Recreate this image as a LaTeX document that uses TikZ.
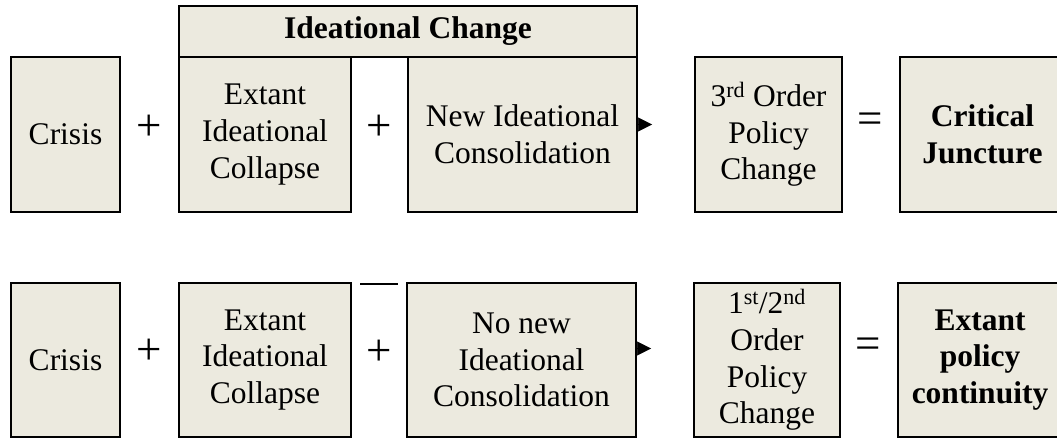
\documentclass[tikz,border=0pt]{standalone}
\usepackage{fontspec}
\setmainfont{Liberation Serif}
\usetikzlibrary{arrows.meta}
\definecolor{boxfill}{RGB}{236,234,223}
\tikzset{
  stage/.style={draw, line width=2.2pt, fill=boxfill, inner sep=0pt, align=center,
    minimum height=155pt, font=\fontsize{31.5}{36.7}\selectfont},
  outcome/.style={stage, font=\fontsize{31.5}{36.7}\selectfont\bfseries},
  sign/.style={inner sep=0pt, font=\fontsize{45}{45}\selectfont},
  headonly/.style={line width=0.5pt, -{Triangle[length=14pt, width=14pt]}},
  bar/.style={line width=1.8pt},
}
\begin{document}
\begin{tikzpicture}[x=1pt, y=-1pt]
  \useasboundingbox (0,0) rectangle (1057,438);
  \def\toprow{134.5}
  \def\botrow{360}
  % header over the two ideational boxes
  \node[stage, minimum width=458pt, minimum height=51pt, font=\fontsize{31.5}{36.7}\selectfont\bfseries]
    (ideaHead) at (408,31.5) {Ideational Change};
  % first row
  \node[stage, minimum width=109pt] (crisisA) at (65.5,\toprow) {Crisis};
  \node[stage, minimum width=172pt] (collapseA) at (265,\toprow) {Extant\\Ideational\\Collapse};
  \node[stage, minimum width=229pt] (consA) at (522.5,\toprow) {New Ideational\\Consolidation};
  \node[stage, minimum width=147pt] (orderA) at (768.5,\toprow) {3\textsuperscript{rd} Order\\Policy\\Change};
  \node[outcome, minimum width=165pt] (juncture) at (982.5,\toprow) {Critical\\Juncture};
  \node[sign] (plusA) at (149,127.5) {+};
  \node[sign] (plusB) at (379,127.5) {+};
  \node[sign] (eqA) at (870,123.5) {=};
  \coordinate (tipA) at (652,124.5);
  \draw[headonly] (consA.east |- tipA) -- (tipA);
  % second row
  \node[stage, minimum width=109pt, minimum height=154pt] (crisisB) at (65.5,\botrow) {Crisis};
  \node[stage, minimum width=172pt, minimum height=154pt] (collapseB) at (265,\botrow) {Extant\\Ideational\\Collapse};
  \node[stage, minimum width=229pt, minimum height=154pt] (consB) at (521.5,\botrow) {No new\\Ideational\\Consolidation};
  \node[stage, minimum width=146pt, minimum height=154pt] (orderB) at (767,\botrow) {1\textsuperscript{st}/2\textsuperscript{nd}\\Order\\Policy\\Change};
  \node[outcome, minimum width=164pt, minimum height=154pt] (continuity) at (980,\botrow) {Extant\\policy\\continuity};
  \node[sign] (plusC) at (149,352) {+};
  \node[sign] (plusD) at (379,353) {+};
  \node[sign] (eqB) at (868.5,348) {=};
  \coordinate (barL) at (360,284);
  \coordinate (barR) at (398,284);
  \draw[bar] (barL) -- (barR);
  \coordinate (tipB) at (651,348.5);
  \draw[headonly] (consB.east |- tipB) -- (tipB);
\end{tikzpicture}
\end{document}
